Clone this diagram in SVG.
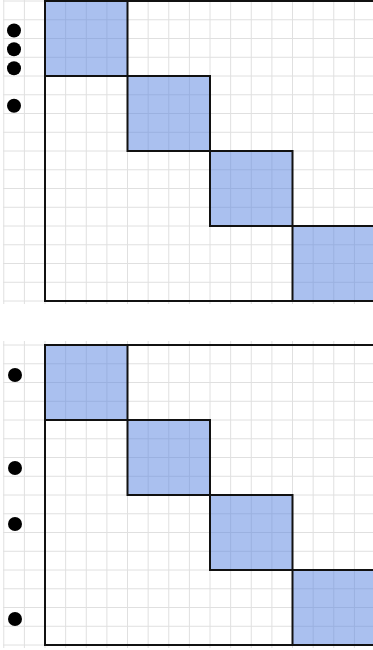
<svg xmlns="http://www.w3.org/2000/svg" width="373" height="650" viewBox="0 0 373 650">
<defs>
<style>
.grid{stroke:#e0e0e0;stroke-width:1;fill:none}
.blk{fill:rgb(85,129,223);fill-opacity:0.5;stroke:none}
.blkline{fill:none;stroke:#111;stroke-width:2}
.frame{fill:none;stroke:#111;stroke-width:2}
.dot{fill:#000}
</style>
<g id="panel">
<path class="grid" d="M3.75 -3V304M24.375 -3V304M45 -3V304M65.625 -3V304M86.25 -3V304M106.875 -3V304M127.5 -3V304M148.125 -3V304M168.75 -3V304M189.375 -3V304M210 -3V304M230.625 -3V304M251.25 -3V304M271.875 -3V304M292.5 -3V304M313.125 -3V304M333.75 -3V304M354.375 -3V304M375 -3V304
M3 1H375M3 19.75H375M3 38.5H375M3 57.25H375M3 76H375M3 94.75H375M3 113.5H375M3 132.25H375M3 151H375M3 169.75H375M3 188.5H375M3 207.25H375M3 226H375M3 244.75H375M3 263.5H375M3 282.25H375M3 301H375"/>
<rect class="blk" x="45" y="1" width="82.5" height="75"/>
<rect class="blk" x="127.5" y="76" width="82.5" height="75"/>
<rect class="blk" x="210" y="151" width="82.5" height="75"/>
<rect class="blk" x="292.5" y="226" width="82.5" height="75"/>
<path class="blkline" d="M45 76H127.5V1M127.5 76V151H210V76H127.5M210 151V226H292.5V151H210M292.5 226V301M292.5 226H376"/>
<rect class="frame" x="45" y="1" width="332" height="300"/>
</g>
</defs>
<rect width="373" height="650" fill="#fff"/>
<g id="top-matrix">
<use href="#panel"/>
</g>
<g id="top-dots">
<circle class="dot" cx="14" cy="30.5" r="7"/>
<circle class="dot" cx="14" cy="49.3" r="7"/>
<circle class="dot" cx="14" cy="68.2" r="7"/>
<circle class="dot" cx="14" cy="105.8" r="7"/>
</g>
<g id="bottom-matrix">
<use href="#panel" transform="translate(0,344)"/>
</g>
<g id="bottom-dots">
<circle class="dot" cx="15" cy="375" r="7"/>
<circle class="dot" cx="15" cy="468" r="7"/>
<circle class="dot" cx="15" cy="524" r="7"/>
<circle class="dot" cx="15" cy="619" r="7"/>
</g>
</svg>
